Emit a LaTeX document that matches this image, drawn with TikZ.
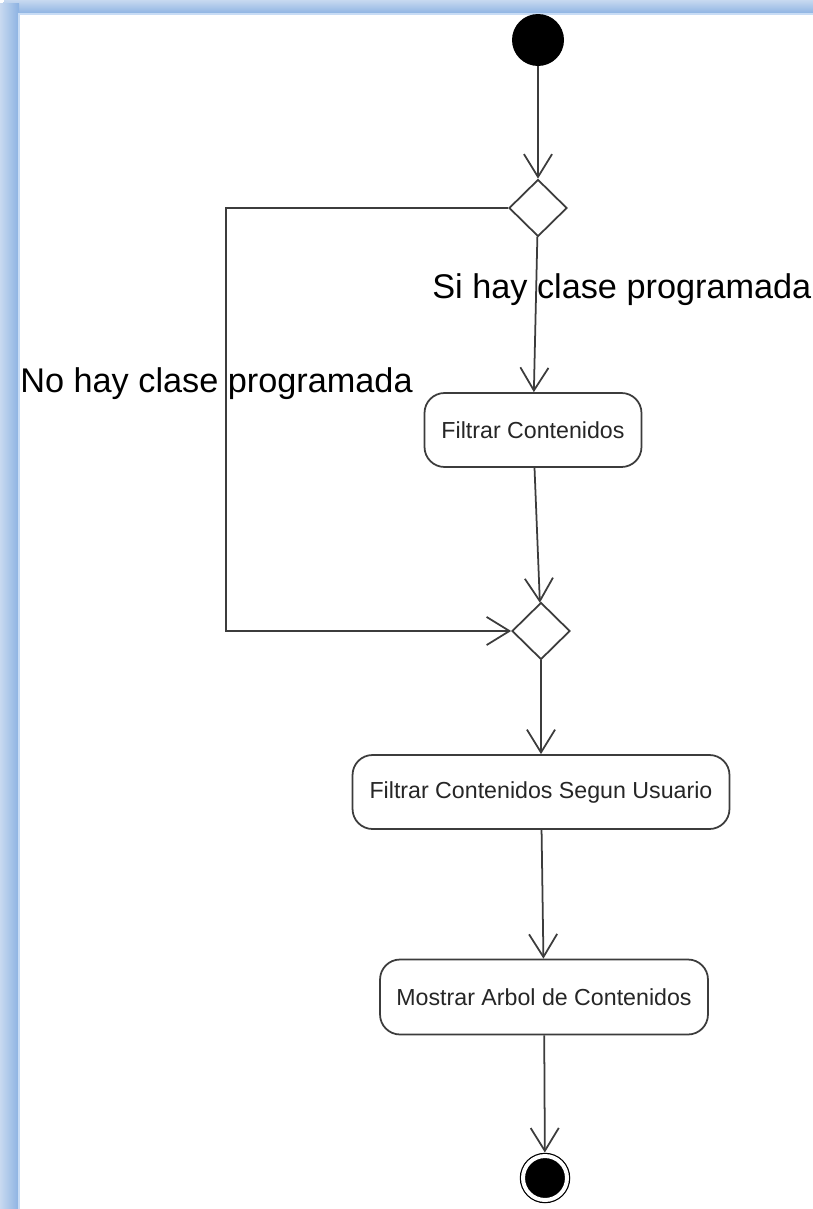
\documentclass[tikz,border=0pt]{standalone}
\usepackage{fontspec}
\setmainfont{Liberation Sans}
\usetikzlibrary{arrows.meta, shapes.geometric, positioning}
\definecolor{lgray}{RGB}{60,60,60}
\definecolor{framein}{RGB}{140,178,226}
\definecolor{frameout}{RGB}{225,234,246}
\definecolor{frameedge}{RGB}{200,220,245}

\begin{document}
\begin{tikzpicture}[x=0.02cm, y=-0.02cm,
  box/.style={rectangle, rounded corners=0.4cm, draw=lgray, line width=1pt,
              minimum height=1.48cm, align=center,
              font=\fontsize{13.2}{16}\selectfont, text=black!85},
  decision/.style={diamond, draw=lgray, line width=1pt, minimum width=1.16cm,
                   minimum height=1.14cm, inner sep=0pt},
  initnode/.style={circle, fill=black, minimum size=1.04cm, inner sep=0pt},
  finnode/.style={circle, fill=black, draw=black, double=white,
                  double distance=0.08cm, line width=0.7pt, minimum size=0.88cm,
                  inner sep=0pt, outer sep=0.07cm},
  arr/.style={-{Straight Barb[length=13pt, width=16pt]}, line width=1pt, lgray},
  lbl/.style={font=\fontsize{19.5}{23}\selectfont, inner sep=0pt, anchor=west}
]
\useasboundingbox (0,0) rectangle (812,1209);
% frame
\fill[framein, rounded corners=0.2cm] (0,0) rectangle (830,1230);
\shade[top color=frameout, bottom color=framein] (4,-6) rectangle (830,14);
\shade[left color=frameout, right color=framein] (-8,4) rectangle (19,1230);
\fill[white] (19,14) rectangle (830,1230);
\draw[frameedge, line width=0.6pt] (19,1230) -- (19,14) -- (830,14);

% nodes
\node[initnode] (inicio) at (538,40) {};
\node[decision] (dec1) at (538,208) {};
\node[box, minimum width=4.34cm] (filtrar) at (533,430) {Filtrar Contenidos};
\node[decision] (dec2) at (541,631) {};
\node[box, minimum width=7.54cm] (filtrarusr) at (541,792) {Filtrar Contenidos Segun Usuario};
\node[box, minimum width=6.56cm, minimum height=1.5cm] (mostrar) at (544,997) {Mostrar Arbol de Contenidos};
\node[finnode] (fin) at (545,1178) {};
\coordinate (izq) at (226,208);

% guards
\node[lbl] (si) at (432,290) {Si hay clase programada};
\node[lbl] (no) at (20,384) {No hay clase programada};

% flow
\draw[arr] (inicio) -- (dec1);
\draw[arr] (dec1) -- (filtrar);
\draw[arr] (filtrar) -- (dec2);
\draw[arr] (dec1.west) -- (izq) |- (dec2.west);
\draw[arr] (dec2) -- (filtrarusr);
\draw[arr] (filtrarusr) -- (mostrar);
\draw[arr] (mostrar) -- (fin);
\end{tikzpicture}
\end{document}
